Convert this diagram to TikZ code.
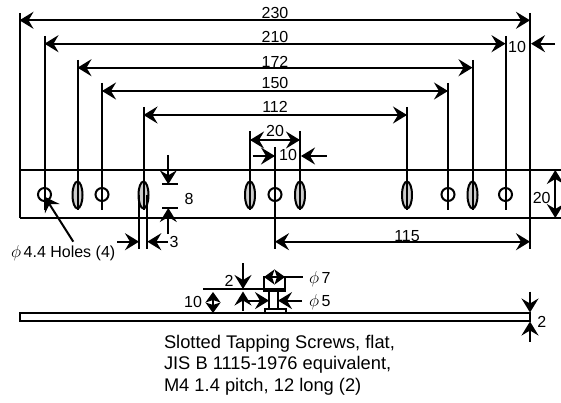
\documentclass[tikz,border=0pt]{standalone}
\usepackage{fontspec}
\setmainfont{Liberation Sans}
\usetikzlibrary{arrows.meta}
\tikzset{
  dimtext/.style={inner sep=0pt, font=\fontsize{16}{16}\selectfont},
  notetext/.style={inner sep=0pt, anchor=west, align=left, font=\fontsize{18.3}{21.7}\selectfont},
  shortdim/.style={>={Stealth[length=10.5pt,width=15pt,inset=2.5pt]}},
  slot/.style={draw, fill=black!20}
}
\begin{document}
\begin{tikzpicture}[x=1pt, y=-1pt, >={Stealth[length=14pt,width=17pt,inset=5pt]}, line width=2pt]
\useasboundingbox (0,0) rectangle (561,403);

% plate, front view
\draw (19.5,13)--(19.5,218);
\draw (530,13)--(530,249);
\draw (19.5,170)--(561,170);
\draw (19.5,218)--(561,218);

% extension lines
\foreach \x/\ytop in {44.5/36, 77.5/60, 102/83, 143.5/107, 250/131, 275/147, 300/131, 407/107, 448/83, 472.5/60, 505.5/36}
  \draw (\x,\ytop)--(\x,210);
\draw (275,210)--(275,249);

% holes and slots
\foreach \x in {44.5, 102, 275, 448, 505.5}
  \draw (\x,194.5) circle (6.5);
\foreach \x in {77.5, 143.5, 250, 300, 407, 472.5} {
  \draw[slot] (\x,195) ellipse (5 and 13.5);
  \draw (\x,182)--(\x,210);
}

% upper dimensions
\draw[<->] (19.5,20.3)--(530,20.3);
\draw[<->] (44.5,43.7)--(505.5,43.7);
\draw[<->] (77.5,67.7)--(472.5,67.7);
\draw[<->] (102,91)--(448,91);
\draw[<->] (143.5,115)--(407,115);
\draw[<->] (250,140)--(300,140);
\draw[->] (252.7,156)--(275,156);
\draw[->] (326.7,156)--(301,156);
\draw[->] (555,43.7)--(531,43.7);
\node[dimtext] (t230) at (275,12.7){230};
\node[dimtext] (t210) at (275,36.7){210};
\node[dimtext] (t172) at (275,61.7){172};
\node[dimtext] (t150) at (275,82.7){150};
\node[dimtext] (t112) at (275,106.7){112};
\node[dimtext] (t20) at (275,130.7){20};
\node[dimtext] (t10a) at (288,155){10};
\node[dimtext] (t10b) at (517,46.7){10};

% slot dimensions
\draw (162,184.3)--(178,184.3);
\draw (162,208)--(178,208);
\draw[->] (168.3,155)--(168.3,184.3);
\draw[->] (168.3,234)--(168.3,208);
\node[dimtext] (t8) at (189,199){8};
\draw (139,195)--(139,249);
\draw (147.3,195)--(147.3,249);
\draw[->] (117,241.7)--(139,241.7);
\draw[->] (168,241.7)--(147.3,241.7);
\node[dimtext] (t3) at (174,242){3};
\draw[->] (73.3,241.7)--(44.7,196.7);
\node[dimtext, anchor=west] (tholes) at (10,252.7){$\phi$\,4.4 Holes (4)};

% lower dimensions
\draw[<->] (275,241.7)--(530,241.7);
\node[dimtext] (t115) at (407,236){115};
\draw[<->] (555.3,170)--(555.3,218);
\node[dimtext] (t20b) at (541.7,197.7){20};

% plate, side view
\draw (19.5,313)--(530,313)--(530,321)--(19.5,321)--cycle;
\draw[->] (530,291.7)--(530,312.5);
\draw[->] (530,341.7)--(530,321.5);
\node[dimtext] (t2b) at (541.7,321.7){2};

% screw
\draw (264,291)--(264,277)--(285,277)--(285,291)--cycle;
\draw (269,291)--(269,308);
\draw (278,291)--(278,308);
\draw (264.5,308.5) rectangle (286,313);
\draw (203,289)--(285,289);
\draw[shortdim, <->] (264,277)--(285,277);
\draw (285,277)--(303,277);
\draw[->] (243,263)--(243,289);
\draw[->] (243,311)--(243,291.5);
\draw[->] (247,300.6)--(269,300.6);
\draw[->] (302,300.6)--(278,300.6);
\draw[shortdim, <->] (213,292)--(213,313);
\node[dimtext] (t2a) at (229,281){2};
\node[dimtext] (t10c) at (193,302){10};
\node[dimtext, anchor=west] (tphia) at (308,279){$\phi$\,7};
\node[dimtext, anchor=west] (tphib) at (308,302){$\phi$\,5};

\node[notetext] (tnote) at (163,365){Slotted Tapping Screws, flat,\\JIS B 1115-1976 equivalent,\\M4 1.4 pitch, 12 long (2)};
\end{tikzpicture}
\end{document}
